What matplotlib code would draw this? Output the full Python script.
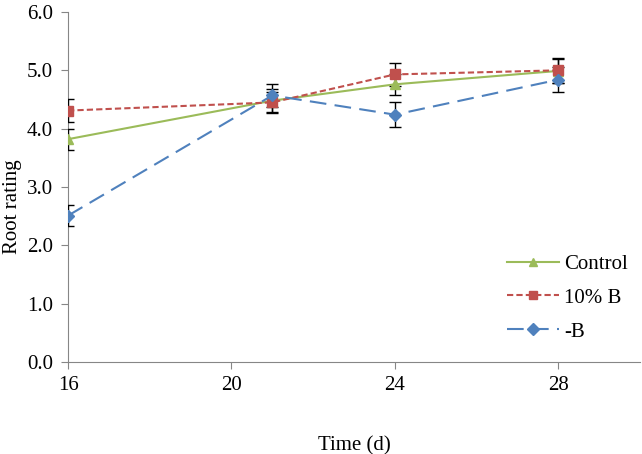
import matplotlib.pyplot as plt

plt.rcParams['font.family'] = ['Liberation Serif', 'DejaVu Serif']

days = [16, 21, 24, 28]

control = [3.82, 4.48, 4.76, 4.99]
control_err = [0.18, 0.20, 0.18, 0.20]

b10 = [4.31, 4.45, 4.93, 5.00]
b10_err = [0.19, 0.18, 0.20, 0.21]

minus_b = [2.51, 4.57, 4.24, 4.84]
minus_b_err = [0.18, 0.20, 0.21, 0.22]

fig = plt.figure(figsize=(6.42, 4.54), dpi=100)
ax = fig.add_axes([0.106, 0.2026, 0.891, 0.771])

c1 = ax.errorbar(days, control, yerr=control_err, color='#9BBB59', ecolor='black',
                 elinewidth=1, capsize=4, lw=1.5, marker='^', ms=7, zorder=3)
c2 = ax.errorbar(days, b10, yerr=b10_err, color='#C0504D', ecolor='black',
                 elinewidth=1, capsize=4, lw=1.5, ls=(0, (3, 1.5)), marker='s', ms=7,
                 zorder=3)
c3 = ax.errorbar(days, minus_b, yerr=minus_b_err, color='#4F81BD', ecolor='black',
                 elinewidth=1, capsize=4, lw=1.5, ls=(0, (8, 4)), marker='D', ms=6,
                 zorder=3)

ax.set_xlim(16, 30)
ax.set_ylim(0, 6)
ax.set_xticks([16, 20, 24, 28])
ax.set_yticks([0, 1, 2, 3, 4, 5, 6])
ax.set_yticklabels(['%.1f' % v for v in ax.get_yticks()])

for s in ['top', 'right']:
    ax.spines[s].set_visible(False)
for s in ['left', 'bottom']:
    ax.spines[s].set_color('#868686')
ax.tick_params(colors='#868686', labelcolor='black', labelsize=15, length=5, direction='out')
ax.tick_params(axis='x', pad=5)
ax.tick_params(axis='y', pad=6)

ax.set_xlabel('Time (d)', fontsize=15)
ax.set_ylabel('Root rating', fontsize=15)
ax.xaxis.set_label_coords(0.5, -0.211)
ax.yaxis.set_label_coords(-0.080, 0.443)

leg = ax.legend([c1.lines[0], c2.lines[0], c3.lines[0]], ['Control', '10% B', '-B'],
                loc='center left', bbox_to_anchor=(0.734, 0.183), frameon=False, fontsize=15,
                handlelength=2.5, labelspacing=0.68, handletextpad=0.25)
for h in leg.legend_handles:
    h.set_markersize(6)

fig.savefig('out.png', dpi=100)
